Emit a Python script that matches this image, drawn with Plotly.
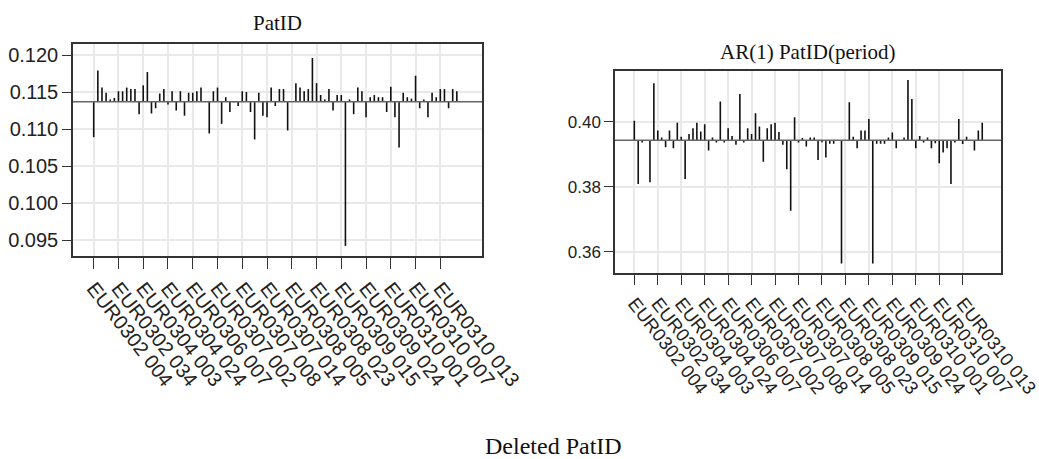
import plotly.graph_objects as go

# ---------------- data ----------------
tick_labels = ["EUR0302 004", "EUR0302 034", "EUR0304 003", "EUR0304 024", "EUR0306 007",
               "EUR0307 002", "EUR0307 008", "EUR0307 014", "EUR0308 005", "EUR0308 023",
               "EUR0309 015", "EUR0309 024", "EUR0310 001", "EUR0310 007", "EUR0310 013"]
tick_every = 6

patid_ref = 0.1137
patid_values = [
    0.1089, 0.1179, 0.1156, 0.1149, 0.1140, 0.1142, 0.1151, 0.1151, 0.1156, 0.1154,
    0.1154, 0.1120, 0.1159, 0.1177, 0.1121, 0.1128, 0.1148, 0.1154, 0.1133, 0.1151,
    0.1125, 0.1151, 0.1118, 0.1149, 0.1149, 0.1151, 0.1156, 0.1137, 0.1094, 0.1151,
    0.1156, 0.1107, 0.1143, 0.1123, 0.1136, 0.1131, 0.1151, 0.1150, 0.1123, 0.1086,
    0.1149, 0.1118, 0.1116, 0.1156, 0.1131, 0.1154, 0.1154, 0.1098, 0.1137, 0.1162,
    0.1156, 0.1151, 0.1154, 0.1196, 0.1162, 0.1146, 0.1140, 0.1154, 0.1125, 0.1146,
    0.1146, 0.0942, 0.1140, 0.1120, 0.1156, 0.1151, 0.1116, 0.1143, 0.1146, 0.1143,
    0.1143, 0.1123, 0.1157, 0.1116, 0.1075, 0.1149, 0.1143, 0.1141, 0.1172, 0.1128,
    0.1140, 0.1116, 0.1149, 0.1143, 0.1154, 0.1154, 0.1128, 0.1154, 0.1151, 0.1137,
]

ar1_ref = 0.3943
ar1_values = [
    0.4003, 0.3808, 0.3936, 0.3943, 0.3814, 0.4118, 0.3973, 0.3951, 0.3921, 0.3973,
    0.3918, 0.3997, 0.3954, 0.3824, 0.3962, 0.3980, 0.3997, 0.3970, 0.3992, 0.3911,
    0.3951, 0.3936, 0.4062, 0.3936, 0.3980, 0.3956, 0.3929, 0.4085, 0.3936, 0.3980,
    0.3962, 0.4026, 0.3985, 0.3877, 0.3980, 0.3992, 0.3997, 0.3968, 0.3929, 0.3854,
    0.3726, 0.4014, 0.3936, 0.3950, 0.3924, 0.3951, 0.3951, 0.3882, 0.3937, 0.3890,
    0.3932, 0.3932, 0.3943, 0.3564, 0.3943, 0.4060, 0.3954, 0.3918, 0.3973, 0.3973,
    0.4008, 0.3564, 0.3932, 0.3932, 0.3932, 0.3951, 0.3967, 0.3918, 0.3943, 0.3951,
    0.4128, 0.4070, 0.3918, 0.3956, 0.3936, 0.3951, 0.3918, 0.3934, 0.3872, 0.3905,
    0.3918, 0.3808, 0.3936, 0.4008, 0.3931, 0.3954, 0.3943, 0.3911, 0.3973, 0.3997,
]

left_yticks = [0.095, 0.100, 0.105, 0.110, 0.115, 0.120]
left_yticktext = ["0.095", "0.100", "0.105", "0.110", "0.115", "0.120"]
right_yticks = [0.36, 0.38, 0.40]
right_yticktext = ["0.36", "0.38", "0.40"]

# ---------------- figure ----------------
W, H = 1039, 459
tickvals = [i * tick_every for i in range(len(tick_labels))]


def needle_xy(values, ref):
    xs, ys = [], []
    for i, v in enumerate(values):
        xs += [i, i, None]
        ys += [ref, v, None]
    return xs, ys


fig = go.Figure()
x1, y1 = needle_xy(patid_values, patid_ref)
fig.add_trace(go.Scatter(x=x1, y=y1, mode="lines", line=dict(color="#111111", width=1.6),
                         xaxis="x", yaxis="y", showlegend=False, hoverinfo="skip"))
x2, y2 = needle_xy(ar1_values, ar1_ref)
fig.add_trace(go.Scatter(x=x2, y=y2, mode="lines", line=dict(color="#111111", width=1.6),
                         xaxis="x2", yaxis="y2", showlegend=False, hoverinfo="skip"))


def px_x(a, b):
    return [a / W, b / W]


def px_y(top, bottom):
    return [1 - bottom / H, 1 - top / H]


grid = "#e9e9e9"
frame = "#333333"
sans = "Liberation Sans, Arial, sans-serif"
serif = "Liberation Serif, Times New Roman, serif"

common_x = dict(tickmode="array", tickvals=tickvals, ticktext=tick_labels,
                tickangle=52, showgrid=True, gridcolor=grid, gridwidth=1.5,
                showline=True, linecolor=frame, linewidth=1.5, mirror=True,
                ticks="outside", ticklen=11, tickwidth=1.2, tickcolor=frame,
                zeroline=False, automargin=False, ticklabeloverflow="allow")
common_y = dict(tickmode="array", showgrid=True, gridcolor=grid, gridwidth=1.5,
                showline=True, linecolor=frame, linewidth=1.5, mirror=True,
                ticks="outside", ticklen=9, tickwidth=1.2, tickcolor=frame,
                zeroline=False, automargin=False, ticklabeloverflow="allow")

fig.update_layout(
    width=W, height=H,
    margin=dict(l=0, r=0, t=0, b=0, autoexpand=False),
    paper_bgcolor="white", plot_bgcolor="white",
    xaxis=dict(domain=px_x(73, 482), range=[-5.02, 94.1], anchor="y",
               tickfont=dict(family=sans, size=20, color="#222222"), **common_x),
    yaxis=dict(domain=px_y(44, 256), range=[0.09284, 0.12149], anchor="x",
               tickvals=left_yticks, ticktext=left_yticktext,
               tickfont=dict(family=sans, size=20, color="#222222"), **common_y),
    xaxis2=dict(domain=px_x(615, 1001), range=[-4.94, 93.8], anchor="y2",
                tickfont=dict(family=sans, size=18.5, color="#222222"), **common_x),
    yaxis2=dict(domain=px_y(70.7, 272.7), range=[0.35354, 0.41569], anchor="x2",
                tickvals=right_yticks, ticktext=right_yticktext,
                tickfont=dict(family=sans, size=17, color="#222222"), **common_y),
)

# reference lines
fig.add_shape(type="line", xref="x domain", yref="y", x0=0, x1=1, y0=patid_ref, y1=patid_ref,
              line=dict(color="#666666", width=1.5), layer="above")
fig.add_shape(type="line", xref="x2 domain", yref="y2", x0=0, x1=1, y0=ar1_ref, y1=ar1_ref,
              line=dict(color="#666666", width=1.5), layer="above")

# titles
fig.add_annotation(text="PatID", xref="x domain", yref="paper", x=0.5, y=1 - 23 / H,
                   xanchor="center", showarrow=False, yanchor="middle",
                   font=dict(family=serif, size=21, color="#111111"))
fig.add_annotation(text="AR(1) PatID(period)", xref="x2 domain", yref="paper", x=0.5, y=1 - 52 / H,
                   xanchor="center", showarrow=False, yanchor="middle",
                   font=dict(family=serif, size=21, color="#111111"))
fig.add_annotation(text="Deleted PatID", xref="paper", yref="paper", x=553 / W, y=1 - 446 / H,
                   xanchor="center", showarrow=False, yanchor="middle",
                   font=dict(family=serif, size=24, color="#111111"))

fig.write_html("out.html")
